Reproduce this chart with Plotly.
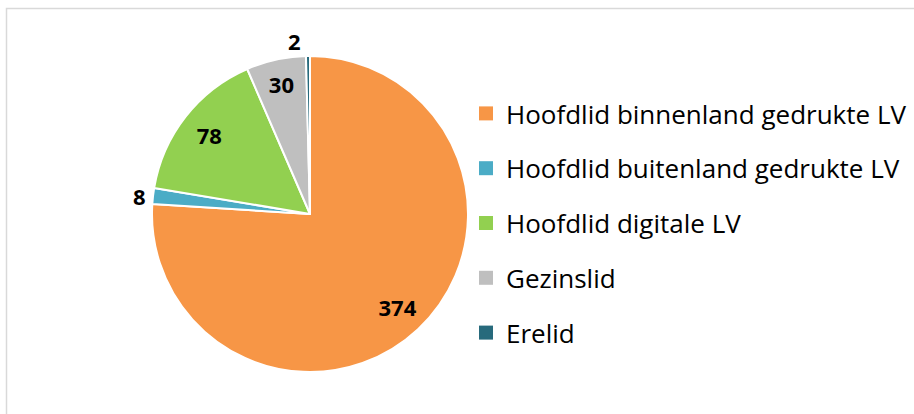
import plotly.graph_objects as go

labels = ["Hoofdlid binnenland gedrukte LV", "Hoofdlid buitenland gedrukte LV",
          "Hoofdlid digitale LV", "Gezinslid", "Erelid"]
values = [374, 8, 78, 30, 2]
colors = ["#F79646", "#4BACC6", "#92D050", "#BFBFBF", "#276A7C"]
positions = ["inside", "outside", "inside", "inside", "outside"]

W, H = 914, 414
FONT = "Open Sans"

cx, cy, r = 310, 214, 158
dom = dict(x=[(cx - r) / W, (cx + r) / W], y=[(H - cy - r) / H, (H - cy + r) / H])

fig = go.Figure()
# coloured slices
fig.add_trace(go.Pie(
    labels=labels, values=values, sort=False, direction="clockwise", rotation=0,
    marker=dict(colors=colors, line=dict(color="white", width=2)),
    textinfo="none", showlegend=False, hoverinfo="label+value", domain=dom,
))
# transparent ring carrying the value labels
fig.add_trace(go.Pie(
    labels=labels, values=values, sort=False, direction="clockwise", rotation=0,
    hole=0.62,
    marker=dict(colors=["rgba(0,0,0,0)"] * len(values), line=dict(width=0)),
    textinfo="value", textposition=positions,
    insidetextorientation="horizontal",
    textfont=dict(family=FONT, size=22, color="black", weight="bold"),
    showlegend=False, hoverinfo="skip", domain=dom,
))

for lab, col in zip(labels, colors):
    fig.add_trace(go.Scatter(
        x=[None], y=[None], mode="markers", name=lab,
        marker=dict(symbol="square", size=14, color=col),
        legendgroup=lab, showlegend=True,
    ))

fig.update_layout(
    width=W, height=H,
    margin=dict(l=0, r=0, t=0, b=0),
    paper_bgcolor="white", plot_bgcolor="white",
    xaxis=dict(visible=False), yaxis=dict(visible=False),
    legend=dict(x=466 / W, y=1 - 90 / H, xanchor="left", yanchor="top",
                font=dict(family=FONT, size=26, color="black"),
                tracegroupgap=18, bgcolor="rgba(0,0,0,0)"),
    shapes=[dict(type="rect", xref="paper", yref="paper",
                 x0=6.5 / W, x1=1.02, y0=-0.02, y1=1 - 8.5 / H,
                 line=dict(color="#D9D9D9", width=1.5), layer="below")],
)

fig.write_html("out.html", config={"displayModeBar": False},
               post_script="document.body.style.margin='0';document.body.style.overflow='hidden';")
